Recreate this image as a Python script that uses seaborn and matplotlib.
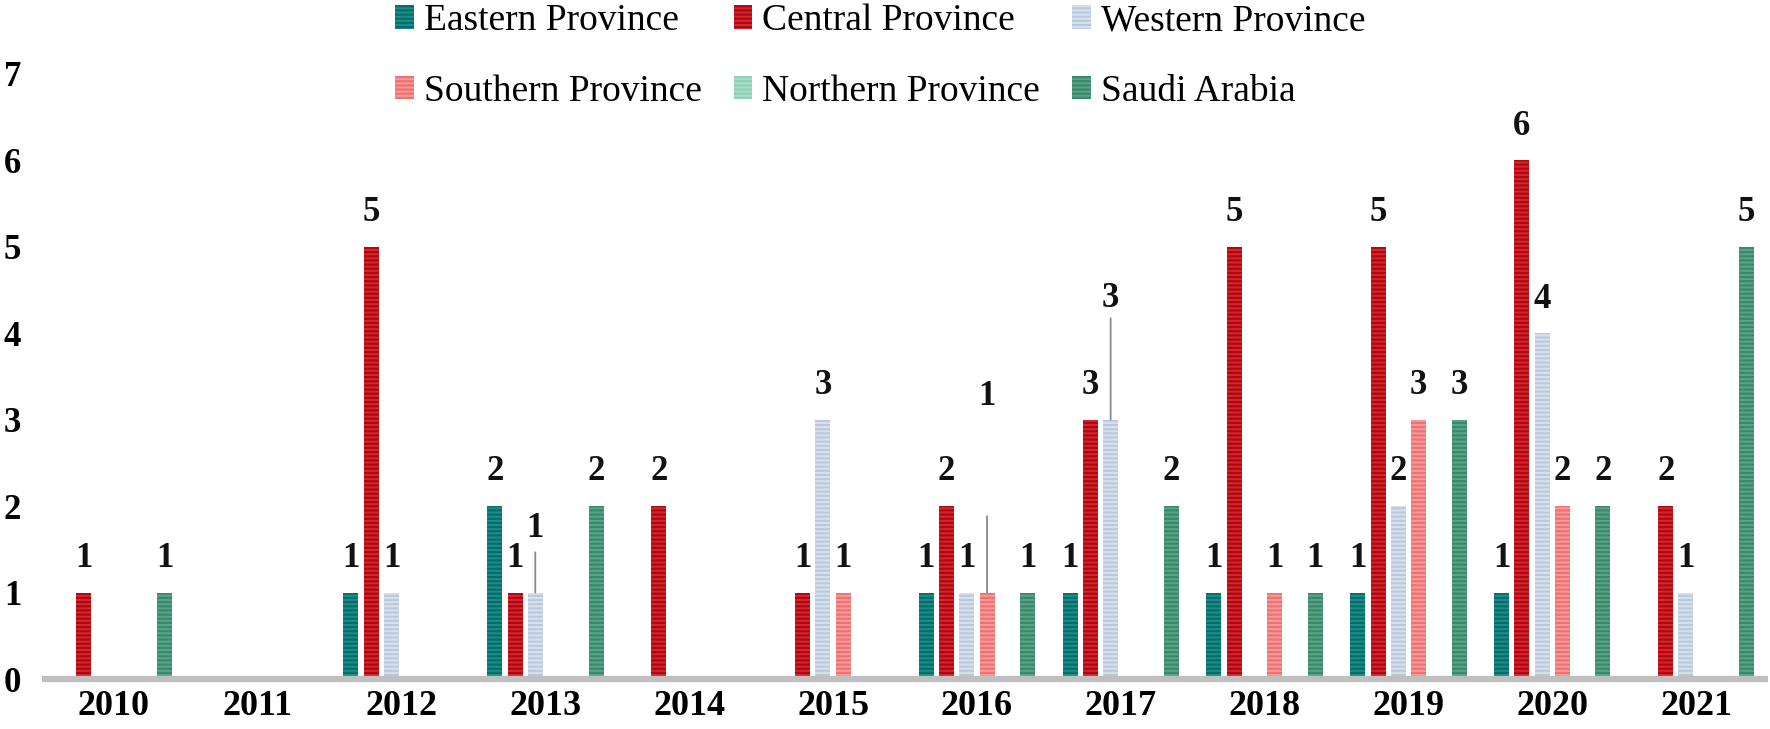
import numpy as np
import pandas as pd
import matplotlib
matplotlib.use("Agg")
import matplotlib.pyplot as plt
from matplotlib.patches import Patch
import seaborn as sns

# ---------------- data ----------------
years = ["2010", "2011", "2012", "2013", "2014", "2015",
         "2016", "2017", "2018", "2019", "2020", "2021"]
series = ["Eastern Province", "Central Province", "Western Province",
          "Southern Province", "Northern Province", "Saudi Arabia"]
eastern = [0, 0, 1, 2, 0, 0, 1, 1, 1, 1, 1, 0]
central = [1, 0, 5, 1, 2, 1, 2, 3, 5, 5, 6, 2]
western = [0, 0, 1, 1, 0, 3, 1, 3, 0, 2, 4, 1]
southern = [0, 0, 0, 0, 0, 1, 1, 0, 1, 3, 2, 0]
northern = [0, 0, 0, 0, 0, 0, 0, 0, 0, 0, 0, 0]
saudi = [1, 0, 0, 2, 0, 0, 1, 2, 1, 3, 2, 5]
yticks = [0, 1, 2, 3, 4, 5, 6, 7]

# ---------------- style ----------------
face_colors = ["#17918e", "#e3212a", "#b9c8db", "#f79a9a", "#a9dcca", "#57a688"]
stripe_colors = ["#0c6a68", "#a50d14", "#d5e0ec", "#ef7272", "#8ecfb7", "#3d876b"]
SERIF = "Liberation Serif"

plt.rcParams["font.family"] = [SERIF, "DejaVu Serif"]
plt.rcParams["hatch.linewidth"] = 1.6

df = pd.DataFrame({
    "Year": years * len(series),
    "Region": np.repeat(series, len(years)),
    "Count": eastern + central + western + southern + northern + saudi,
})

fig = plt.figure(figsize=(17.7, 7.29), dpi=100)
ax = fig.add_axes([42 / 1770, 50 / 729, 1726 / 1770, 605 / 729])

sns.barplot(data=df, x="Year", y="Count", hue="Region", order=years,
            hue_order=series, palette=face_colors, saturation=1,
            width=0.845, gap=0.26, errorbar=None, legend=False, ax=ax)

for cont, sc in zip(ax.containers, stripe_colors):
    for bar in cont:
        bar.set_hatch("----")
        bar.set_edgecolor(sc)
        bar.set_linewidth(0)

# value labels (some are lifted with a leader line)
lifted = {("2013", "Western Province"): (40, 29),
          ("2016", "Southern Province"): (135, 55),
          ("2017", "Western Province"): (81, 73)}
for cont, name in zip(ax.containers, series):
    for yr, bar in zip(years, cont):
        h = bar.get_height()
        if h <= 0:
            continue
        x = bar.get_x() + bar.get_width() / 2
        off, line = lifted.get((yr, name), (18.5, None))
        ax.annotate(f"{int(h)}", (x, h), xytext=(0, off), textcoords="offset points",
                    ha="center", va="baseline", fontsize=25, fontweight="bold",
                    color="#111111")
        if line is not None:
            ax.annotate("", xy=(x, h), xytext=(0, line), textcoords="offset points",
                        arrowprops=dict(arrowstyle="-", color="#8a8a8a", lw=1.3,
                                        shrinkA=0, shrinkB=0))

ax.set_ylim(0, 7)
ax.set_xlim(-0.5, len(years) - 0.5)
ax.set_yticks(yticks)
ax.set_yticklabels([str(t) for t in yticks], fontsize=25, fontweight="bold")
ax.set_xticks(range(len(years)))
ax.set_xticklabels(years, fontsize=26, fontweight="bold")
ax.tick_params(axis="y", length=0, pad=15)
ax.tick_params(axis="x", length=0, pad=8)
ax.set_xlabel("")
ax.set_ylabel("")
for s in ["top", "right", "left"]:
    ax.spines[s].set_visible(False)
ax.spines["bottom"].set_color("#bfbfbf")
ax.spines["bottom"].set_linewidth(4.5)
ax.spines["bottom"].set_capstyle("butt")

# legend: column-major order so rows read E C W / S N SA
order = [0, 3, 1, 4, 2, 5]
handles = [Patch(facecolor=face_colors[i], edgecolor=stripe_colors[i], hatch="----",
                 linewidth=0, label=series[i]) for i in order]
fig.legend(handles=handles, labels=[series[i] for i in order], ncol=3,
           loc="upper left", bbox_to_anchor=(395 / 1770, 1.0 - 4 / 729),
           frameon=False, fontsize=27, handlelength=0.5, handleheight=0.6,
           handletextpad=0.27, columnspacing=0.85, labelspacing=0.95,
           borderpad=0, borderaxespad=0)

fig.savefig("out.png", dpi=100, facecolor="white")
